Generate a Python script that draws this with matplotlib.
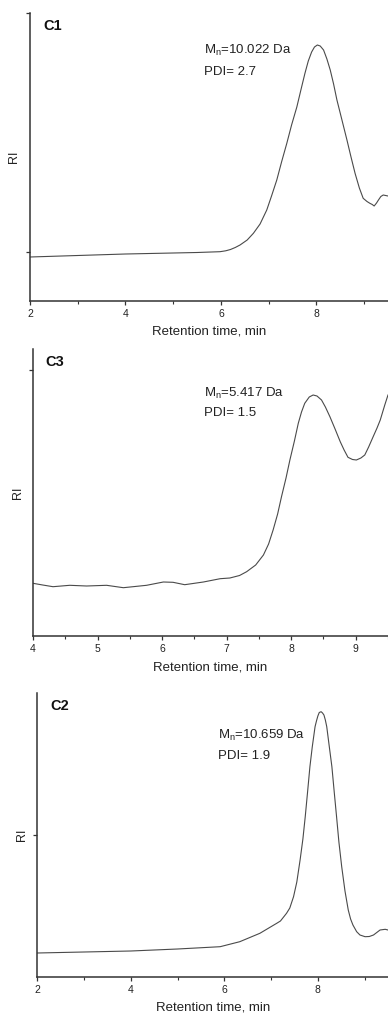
import matplotlib
matplotlib.use("Agg")
import matplotlib.pyplot as plt
from matplotlib.ticker import MultipleLocator

plt.rcParams['font.family'] = ['Liberation Sans', 'DejaVu Sans']
plt.rcParams['mathtext.fontset'] = 'custom'
plt.rcParams['mathtext.rm'] = 'Liberation Sans'
plt.rcParams['mathtext.it'] = 'Liberation Sans:italic'

# ---- data (retention time, min  /  RI, arbitrary units) ----
c1_time = [2.0, 3.0, 4.0, 5.0, 5.5, 5.98, 6.1, 6.2, 6.30, 6.40, 6.55, 6.68, 6.82, 6.96,
           7.06, 7.17, 7.27, 7.38, 7.48, 7.59, 7.68, 7.76, 7.83, 7.90, 7.96, 8.02, 8.08,
           8.15, 8.22, 8.29, 8.36, 8.43, 8.53, 8.64, 8.72, 8.81, 8.90, 8.98,
           9.06, 9.12, 9.17, 9.21, 9.26, 9.30, 9.35, 9.40, 9.50]
c1_ri = [44, 45.5, 47, 48, 48.5, 49.3, 50.2, 51.5, 53.5, 56, 61, 67.7, 77, 91,
         105, 121, 139, 157.7, 176, 194, 212, 227.7, 240, 249, 254, 256, 255,
         251, 242, 231, 217, 201, 182, 161, 145, 127.7, 113, 102.7,
         99.5, 97.7, 96.5, 95, 98, 101, 104.5, 106, 105]

c3_time = [4.0, 4.15, 4.31, 4.57, 4.83, 5.14, 5.40, 5.76, 6.02, 6.17, 6.35, 6.64, 6.90,
           7.05, 7.20, 7.31, 7.45, 7.57, 7.65, 7.72, 7.79, 7.85, 7.92, 7.98, 8.05, 8.11,
           8.16, 8.21, 8.28, 8.34, 8.40, 8.47, 8.53, 8.60, 8.68, 8.76, 8.82, 8.88, 8.95,
           9.01, 9.08, 9.14, 9.20, 9.27, 9.33, 9.38, 9.45, 9.50]
c3_ri = [52.7, 51, 49.3, 50.7, 50, 50.7, 48.3, 50.7, 54, 53.7, 51.3, 54, 57.3,
         58, 60.5, 64.3, 71, 81, 92, 106, 122, 139.3, 158, 176, 195, 212.7,
         224, 232.7, 239, 241, 240, 236, 229, 219.3, 207, 194.3, 186, 178.7, 176.5,
         176, 178, 181, 189, 199.3, 208, 216, 231, 241]

c2_time = [2.0, 3.0, 4.0, 5.0, 5.91, 6.33, 6.76, 7.12, 7.20, 7.33, 7.40, 7.48, 7.55,
           7.62, 7.68, 7.73, 7.78, 7.83, 7.88, 7.94, 7.97, 8.00, 8.03, 8.07, 8.10,
           8.13, 8.16, 8.19, 8.24, 8.30, 8.35, 8.40, 8.45, 8.51, 8.58, 8.65, 8.70,
           8.75, 8.83, 8.90, 9.01, 9.10, 9.19, 9.26, 9.33, 9.44, 9.50]
c2_ri = [24, 25, 26, 28, 30.3, 35.3, 43.7, 53.7, 56, 63.7, 69, 80.3, 95,
         117, 138, 160.3, 185, 210.3, 230, 250.3, 256, 261, 264.5, 265.3, 264,
         262, 257, 250.3, 232, 210.3, 185, 160.3, 135, 110.3, 86, 67, 58,
         52, 45.3, 42, 40.3, 40.5, 42, 44.5, 47, 47.7, 47]

panel_names = ["C1", "C3", "C2"]
mn_labels = [r"M$_\mathregular{n}$=10.022 Da", r"M$_\mathregular{n}$=5.417 Da",
             r"M$_\mathregular{n}$=10.659 Da"]
pdi_labels = ["PDI= 2.7", "PDI= 1.5", "PDI= 1.9"]
xlims = [(2, 9.5), (4, 9.5), (2, 9.5)]
ylims = [(0, 288), (0, 287), (0, 284)]
yticks = [[49, 288], [266], [142]]
x_major = [2, 1, 2]
x_minor = [1, 0.5, 1]
text_x = [5.65, 6.65, 5.865]
mn_y = [251, 243, 242]
pdi_y = [229, 223, 221]

W, H = 388, 1017
fig = plt.figure(figsize=(W / 100, H / 100), dpi=100)

# axes rectangles in pixels: left, top, bottom
rects = [(30, 13, 301), (33, 349, 636), (37.3, 693, 977)]
series = [(c1_time, c1_ri), (c3_time, c3_ri), (c2_time, c2_ri)]

axc = '#333333'
for i, (l, t, b) in enumerate(rects):
    ax = fig.add_axes([l / W, 1 - b / H, (W - l) / W, (b - t) / H])
    x, y = series[i]
    ax.plot(x, y, color='#4a4a4a', lw=0.8, solid_joinstyle='round')
    ax.set_xlim(*xlims[i])
    ax.set_ylim(*ylims[i])
    for s in ['top', 'right']:
        ax.spines[s].set_visible(False)
    for s in ['left', 'bottom']:
        ax.spines[s].set_color(axc)
        ax.spines[s].set_linewidth(1.1)
    ax.xaxis.set_major_locator(MultipleLocator(x_major[i]))
    ax.xaxis.set_minor_locator(MultipleLocator(x_minor[i]))
    ax.set_yticks(yticks[i])
    ax.set_yticklabels([])
    ax.tick_params(axis='both', which='major', direction='out', length=3, width=0.9,
                   color=axc, labelsize=7.5, pad=2.5, labelcolor='#222222')
    ax.tick_params(axis='x', which='minor', direction='out', length=1.8, width=0.8,
                   color=axc)
    ax.patch.set_alpha(0)
    h_px = b - t
    ax.set_xlabel("Retention time, min", fontsize=9.5, color='#222222', va='top')
    ax.xaxis.set_label_coords(0.5, -25 / h_px)
    w_px = W - l
    ax.text(-15.5 / w_px, 0.5, "RI", rotation=90, ha='center', va='center',
            fontsize=9, color='#222222', transform=ax.transAxes)
    ax.text(0.036, 1 - 13.5 / h_px, panel_names[i], ha='left', va='center',
            fontsize=10.5, fontweight='bold', color='#111111', transform=ax.transAxes)
    ax.text(text_x[i], mn_y[i], mn_labels[i], ha='left', va='center', fontsize=9.5,
            color='#222222')
    ax.text(text_x[i], pdi_y[i], pdi_labels[i], ha='left', va='center', fontsize=9.5,
            color='#222222')

fig.savefig("out.png", dpi=100, facecolor='white')
